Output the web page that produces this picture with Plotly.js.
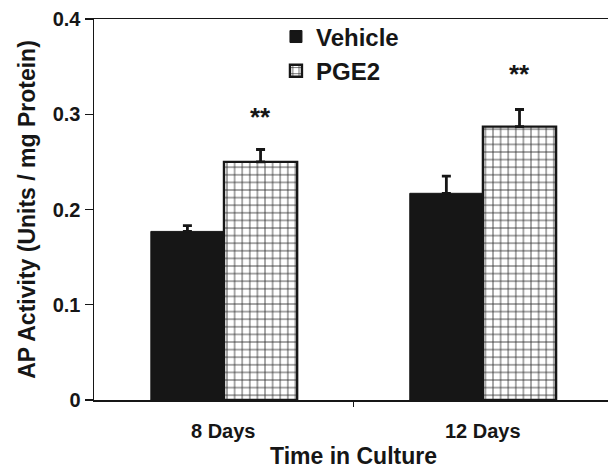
<!DOCTYPE html>
<html><head><meta charset="utf-8">
<script src="https://cdn.plot.ly/plotly-3.0.1.min.js"></script>
<style>html,body{margin:0;padding:0;background:#fff}#chart{width:608px;height:476px}</style>
</head><body><div id="chart"></div>
<script>
// Data
const groupPos = [1, 2];
const categories = ["8 Days", "12 Days"];
const vehicle = [0.177, 0.217];
const vehicleErr = [0.006, 0.018];
const pge2 = [0.250, 0.287];
const pge2Err = [0.013, 0.018];
const sigMarks = ["**", "**"];
const sigY = [0.297, 0.342];
const yTicks = [0, 0.1, 0.2, 0.3, 0.4];
const yTickText = ["0", "0.1", "0.2", "0.3", "0.4"];

const F = "Liberation Sans, Arial, sans-serif";
const INK = "#161616";

const traces = [
  {type: "bar", name: "Vehicle", x: groupPos, y: vehicle,
   marker: {color: INK, line: {color: INK, width: 1}},
   error_y: {type: "data", symmetric: false, array: vehicleErr, arrayminus: [0, 0], color: INK, thickness: 2.8, width: 4.5}},
  {type: "bar", name: "PGE2", x: groupPos, y: pge2,
   marker: {color: "white", line: {color: INK, width: 2.4},
            pattern: {shape: "+", fgcolor: "#2a2a2a", bgcolor: "white", size: 7.6, solidity: 0.2}},
   error_y: {type: "data", symmetric: false, array: pge2Err, arrayminus: [0, 0], color: INK, thickness: 2.8, width: 4.5}}
];

const annotations = [];
groupPos.forEach((g, i) => {
  annotations.push({x: g + 0.141, y: sigY[i], xref: "x", yref: "y", text: "<b>" + sigMarks[i] + "</b>", showarrow: false,
    font: {family: F, size: 26, color: INK}});
  annotations.push({x: g, y: 0, xref: "x", yref: "paper", yshift: -31, yanchor: "middle", text: "<b>" + categories[i] + "</b>",
    showarrow: false, font: {family: F, size: 20, color: INK}});
});
annotations.push({x: 1.5, y: 0, xref: "x", yref: "paper", yshift: -56, yanchor: "middle", text: "<b>Time in Culture</b>",
  showarrow: false, font: {family: F, size: 23, color: INK}});

const layout = {
  width: 608, height: 476,
  margin: {l: 94, r: 0, t: 19, b: 76},
  paper_bgcolor: "white", plot_bgcolor: "white",
  barmode: "group", bargap: 0.435, bargroupgap: 0,
  showlegend: true,
  legend: {x: 0.354, y: 1.012, xanchor: "left", yanchor: "top", bgcolor: "rgba(0,0,0,0)",
           font: {family: F, size: 24, color: INK, weight: "bold"}, itemwidth: 30, tracegroupgap: 0},
  xaxis: {range: [0.498, 2.483], showgrid: false, zeroline: false, showline: true, mirror: true,
          linecolor: INK, linewidth: 1.5, showticklabels: false, ticks: "",
          minor: {tickvals: [1.5], ticks: "outside", ticklen: 5, tickcolor: INK, tickwidth: 1.2}},
  yaxis: {range: [0, 0.4], showgrid: false, zeroline: false, showline: true, linecolor: INK, linewidth: 1.5,
          tickvals: yTicks, ticktext: yTickText, ticks: "outside", ticklen: 8, tickcolor: INK, tickwidth: 1.2,
          tickfont: {family: F, size: 20, color: INK, weight: "bold"},
          title: {text: "<b>AP Activity (Units / mg Protein)</b>", font: {family: F, size: 23, color: INK}, standoff: 10}},
  annotations: annotations
};

Plotly.newPlot("chart", traces, layout, {displayModeBar: false, staticPlot: true});
</script>
</body></html>
